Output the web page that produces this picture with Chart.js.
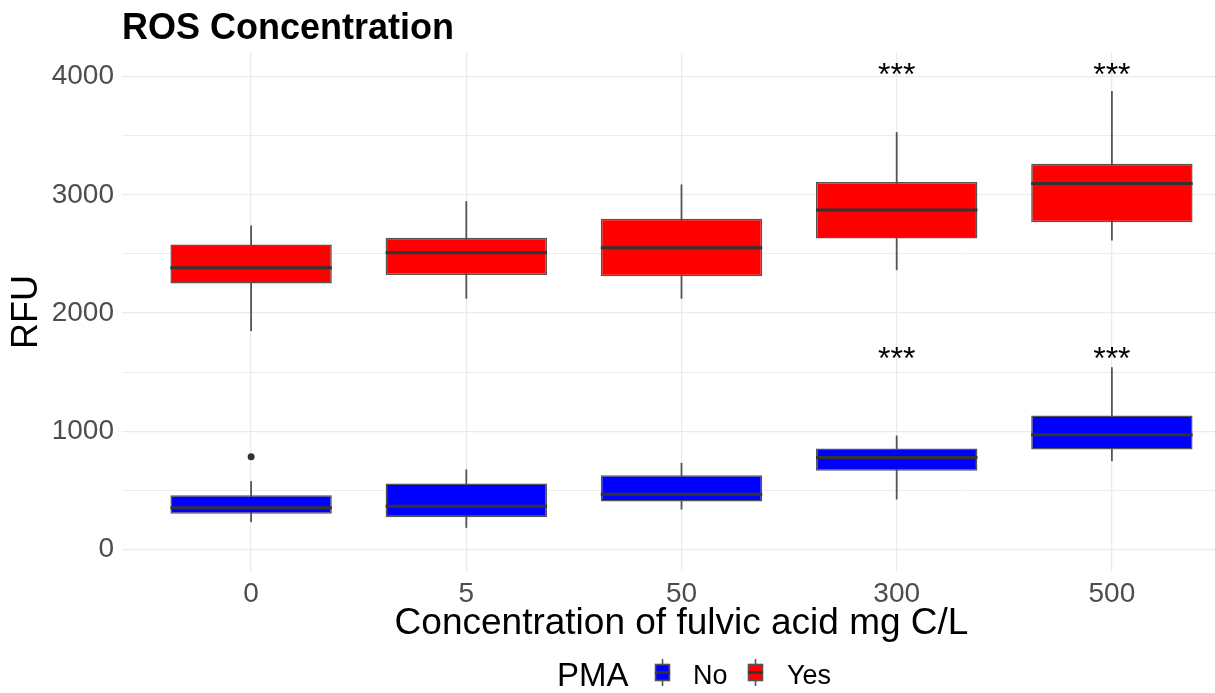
<!DOCTYPE html>
<html>
<head>
<meta charset="utf-8">
<script src="https://cdn.jsdelivr.net/npm/chart.js@4.4.1/dist/chart.umd.min.js"></script>
<style>
  html, body { margin: 0; padding: 0; background: #fff; overflow: hidden; }
  #wrap { width: 1215px; height: 693px; overflow: hidden; }
</style>
</head>
<body>
<div id="wrap"><canvas id="chart" width="1245" height="693"></canvas></div>
<script>
const categories = ['0', '5', '50', '300', '500'];

// PMA = Yes (red boxes)
const yesLow    = [1847, 2121, 2121, 2363, 2614];
const yesQ1     = [2250, 2321, 2312, 2631, 2769];
const yesMedian = [2383, 2510, 2552, 2871, 3096];
const yesQ3     = [2580, 2637, 2798, 3108, 3263];
const yesHigh   = [2741, 2947, 3088, 3531, 3878];

// PMA = No (blue boxes)
const noLow    = [231, 183, 338, 423, 747];
const noQ1     = [302, 273, 406, 666, 846];
const noMedian = [353, 366, 468, 778, 970];
const noQ3     = [459, 558, 629, 854, 1134];
const noHigh   = [578, 677, 733, 964, 1542];
const noOutliers = [{x: 0, y: 784}];

// significance marks
const sigLabels = ['', '', '', '***', '***'];
const sigYes = [null, null, null, 4000, 4000];
const sigNo  = [null, null, null, 1600, 1600];

const yTicks = [0, 500, 1000, 1500, 2000, 2500, 3000, 3500, 4000];

const family = "'Liberation Sans', Arial, Helvetica, sans-serif";
Chart.defaults.font.family = family;

const boxData = (q1, q3) => q1.map((v, i) => ({x: i, y: [v, q3[i]]}));

const boxParts = {
  id: 'boxParts',
  beforeDatasetsDraw(chart) {
    const ctx = chart.ctx, y = chart.scales.y;
    chart.data.datasets.forEach((ds, di) => {
      if (!ds.stats) return;
      chart.getDatasetMeta(di).data.forEach((bar, i) => {
        ctx.save();
        ctx.strokeStyle = '#555555';
        ctx.lineWidth = 1.8;
        ctx.beginPath();
        ctx.moveTo(bar.x, y.getPixelForValue(ds.stats.low[i]));
        ctx.lineTo(bar.x, y.getPixelForValue(ds.stats.high[i]));
        ctx.stroke();
        ctx.restore();
      });
    });
  },
  afterDatasetsDraw(chart) {
    const ctx = chart.ctx, y = chart.scales.y;
    chart.data.datasets.forEach((ds, di) => {
      if (!ds.stats) return;
      chart.getDatasetMeta(di).data.forEach((bar, i) => {
        const my = y.getPixelForValue(ds.stats.median[i]);
        ctx.save();
        ctx.strokeStyle = '#333333';
        ctx.lineWidth = 3;
        ctx.beginPath();
        ctx.moveTo(bar.x - bar.width / 2, my);
        ctx.lineTo(bar.x + bar.width / 2, my);
        ctx.stroke();
        if (ds.sig[i] !== null) {
          ctx.fillStyle = '#000';
          ctx.font = '32px ' + family;
          ctx.textAlign = 'center';
          ctx.textBaseline = 'middle';
          ctx.fillText(sigLabels[i], bar.x, y.getPixelForValue(ds.sig[i]));
        }
        ctx.restore();
      });
    });
  },
  afterDraw(chart) {
    const ctx = chart.ctx;
    ctx.save();
    // title, aligned with the panel
    ctx.fillStyle = '#000';
    ctx.font = 'bold 36px ' + family;
    ctx.textBaseline = 'alphabetic';
    ctx.fillText('ROS Concentration', chart.chartArea.left, 39);
    // legend
    ctx.font = '33px ' + family;
    ctx.fillText('PMA', 557, 686);
    const keys = [['No', '#0000ff', 655, 693], ['Yes', '#ff0000', 748, 787]];
    keys.forEach(([txt, col, kx, tx]) => {
      ctx.strokeStyle = '#555555';
      ctx.lineWidth = 1.6;
      ctx.beginPath();
      ctx.moveTo(kx + 7.5, 659);
      ctx.lineTo(kx + 7.5, 686);
      ctx.stroke();
      ctx.fillStyle = col;
      ctx.fillRect(kx, 664, 15, 17);
      ctx.strokeRect(kx + 0.5, 664.5, 14, 16);
      ctx.strokeStyle = '#333333';
      ctx.lineWidth = 2.5;
      ctx.beginPath();
      ctx.moveTo(kx, 672.5);
      ctx.lineTo(kx + 15, 672.5);
      ctx.stroke();
      ctx.fillStyle = '#000';
      ctx.font = '27px ' + family;
      ctx.fillText(txt, tx, 684);
    });
    ctx.restore();
  }
};

new Chart(document.getElementById('chart'), {
  type: 'bar',
  data: {
    datasets: [
      {
        label: 'No',
        data: boxData(noQ1, noQ3),
        stats: {low: noLow, median: noMedian, high: noHigh},
        sig: sigNo,
        backgroundColor: '#0000ff',
        borderColor: '#555555',
        borderWidth: 1.5,
        borderSkipped: false,
        grouped: false,
        categoryPercentage: 1,
        barPercentage: 0.75
      },
      {
        label: 'Yes',
        data: boxData(yesQ1, yesQ3),
        stats: {low: yesLow, median: yesMedian, high: yesHigh},
        sig: sigYes,
        backgroundColor: '#ff0000',
        borderColor: '#555555',
        borderWidth: 1.5,
        borderSkipped: false,
        grouped: false,
        categoryPercentage: 1,
        barPercentage: 0.75
      },
      {
        type: 'scatter',
        label: 'outliers',
        data: noOutliers,
        pointRadius: 3.5,
        backgroundColor: '#333333',
        borderWidth: 0
      }
    ]
  },
  options: {
    responsive: false,
    animation: false,
    layout: { padding: {top: 53, left: 0, right: 0, bottom: 0} },
    plugins: {
      legend: { display: false },
      tooltip: { enabled: false },
      title: { display: false }
    },
    scales: {
      x: {
        type: 'linear',
        min: -0.6,
        max: 4.6,
        offset: false,
        afterBuildTicks: s => { s.ticks = categories.map((c, i) => ({value: i})); },
        afterFit: s => { s.height = 122; },
        ticks: {
          callback: v => categories[v] ?? '',
          padding: 6,
          maxRotation: 0,
          autoSkip: false,
          color: '#4d4d4d',
          font: {size: 28}
        },
        grid: { color: '#ebebeb', lineWidth: 1.3, drawTicks: false, offset: false },
        border: { display: false },
        title: {
          display: true,
          text: 'Concentration of fulvic acid mg C/L',
          color: '#000',
          font: {size: 37},
          padding: {top: 0, bottom: 47}
        }
      },
      y: {
        min: -182,
        max: 4200,
        afterBuildTicks: s => { s.ticks = yTicks.map(v => ({value: v})); },
        afterFit: s => { s.width = 122; },
        ticks: {
          callback: v => (v % 1000 === 0 ? String(v) : ''),
          padding: 8,
          color: '#4d4d4d',
          font: {size: 28}
        },
        grid: {
          color: '#ebebeb',
          lineWidth: c => (c.tick && c.tick.value % 1000 === 0 ? 1.3 : 0.9),
          drawTicks: false
        },
        border: { display: false },
        title: {
          display: true,
          text: 'RFU',
          color: '#000',
          font: {size: 36},
          padding: {top: 5, bottom: 0}
        }
      }
    }
  },
  plugins: [boxParts]
});
</script>
</body>
</html>
